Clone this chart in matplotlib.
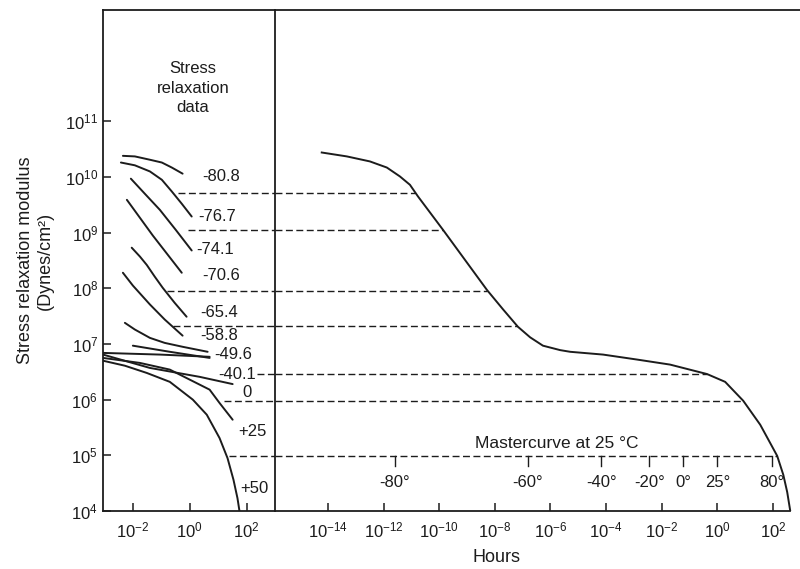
import numpy as np
import matplotlib
matplotlib.use("Agg")
import matplotlib.pyplot as plt
from matplotlib.ticker import FixedLocator, LogFormatterSciNotation, NullLocator

plt.rcParams["font.family"] = ["Liberation Sans", "DejaVu Sans"]
plt.rcParams["mathtext.fontset"] = "custom"
plt.rcParams["mathtext.rm"] = "Liberation Sans"
plt.rcParams["mathtext.it"] = "Liberation Sans:italic"
plt.rcParams["mathtext.bf"] = "Liberation Sans:bold"

# ---- stress relaxation runs (log10 hours, log10 dynes/cm^2) ----
run_logt = [
    [-2.35, -1.93, -1.40, -0.98, -0.63, -0.25],
    [-2.42, -1.93, -1.40, -0.98, -0.63, -0.28, 0.07],
    [-2.07, -1.58, -1.05, -0.49, 0.07],
    [-2.21, -1.30, -0.28],
    [-2.04, -1.75, -1.51, -1.23, -0.95, -0.53, -0.11],
    [-2.35, -2.00, -1.40, -0.88, -0.25],
    [-2.28, -1.93, -1.40, -0.88, -0.25, 0.63],
    [-2.00, -0.70, 0.70],
    [-3.05, -1.05, 0.70],
    [-3.05, -1.40, 0.35, 1.51],
    [-3.05, -1.75, -0.70, 0.00, 0.70, 1.05, 1.51],
    [-3.05, -2.28, -1.51, -0.70, 0.11, 0.60, 1.05, 1.33, 1.54, 1.68, 1.75],
]
run_logE = [
    [10.38, 10.37, 10.31, 10.26, 10.17, 10.06],
    [10.26, 10.21, 10.10, 9.95, 9.74, 9.52, 9.29],
    [9.97, 9.70, 9.41, 9.05, 8.68],
    [9.59, 8.95, 8.28],
    [8.73, 8.57, 8.42, 8.21, 8.01, 7.74, 7.49],
    [8.28, 8.05, 7.71, 7.44, 7.15],
    [7.38, 7.26, 7.11, 7.02, 6.95, 6.86],
    [6.97, 6.86, 6.75],
    [6.84, 6.81, 6.77],
    [6.81, 6.57, 6.41, 6.28],
    [6.75, 6.66, 6.54, 6.36, 6.18, 5.94, 5.64],
    [6.70, 6.61, 6.48, 6.32, 6.00, 5.73, 5.31, 4.95, 4.56, 4.23, 4.00],
]
run_temps = ["-80.8", "-76.7", "-74.1", "-70.6", "-65.4", "-58.8",
             "-49.6", "-40.1", "0", "+25", "+50"]

# ---- master curve at 25 °C ----
master_logt = [-14.22, -13.32, -12.49, -11.88, -11.41, -11.05, -10.76, -9.86,
               -8.28, -7.70, -7.17, -6.73, -6.27, -5.65, -5.29, -4.11, -2.88,
               -1.70, -0.37, 0.28, 0.93, 1.54, 1.90, 2.15, 2.37, 2.51, 2.62]
master_logE = [10.44, 10.37, 10.28, 10.17, 10.01, 9.86, 9.65, 9.05,
               7.97, 7.62, 7.31, 7.12, 6.97, 6.89, 6.86, 6.81, 6.72,
               6.63, 6.46, 6.32, 5.98, 5.55, 5.22, 4.99, 4.65, 4.34, 4.00]

# ---- shifted levels carried from the runs to the master curve ----
shift_logE = [9.72, 9.04, 7.96, 7.33, 6.46, 5.98, 4.99]
shift_from_logt = [-0.42, -0.07, -0.81, -0.60, 2.35, 1.19, 1.37]

# ---- temperature scale along the master curve ----
scale_temps = ["-80°", "-60°", "-40°", "-20°", "0°", "25°", "80°"]
scale_logt = [-11.59, -6.81, -4.18, -2.45, -1.23, 0.0, 1.97]

INK = "#1c1c1c"
FS = 12

fig = plt.figure(figsize=(8.0, 5.69), dpi=100)
axL = fig.add_axes([103 / 800, 58 / 569, 172 / 800, 501 / 569])
axR = fig.add_axes([275 / 800, 58 / 569, 525 / 800, 501 / 569])

xl_left = (10 ** -3.05, 10 ** 3.0)
xl_right = (10 ** -15.9, 10 ** 2.97)
for ax, xl in ((axL, xl_left), (axR, xl_right)):
    ax.set_xscale("log")
    ax.set_yscale("log")
    ax.set_xlim(*xl)
    ax.set_ylim(1e4, 1e13)
    for s in ax.spines.values():
        s.set_linewidth(1.3)
        s.set_color(INK)
    ax.xaxis.set_minor_locator(NullLocator())
    ax.yaxis.set_minor_locator(NullLocator())
    ax.tick_params(direction="in", length=6, width=1.1, colors=INK,
                   labelsize=FS, labelcolor=INK)
    ax.tick_params(axis="x", pad=7)

axL.spines["right"].set_visible(False)
axR.spines["right"].set_visible(False)
axR.spines["bottom"].set_bounds(10 ** -15.9, 10 ** 2.6)

axL.yaxis.set_major_locator(FixedLocator([10.0 ** k for k in range(4, 12)]))
axL.yaxis.set_major_formatter(LogFormatterSciNotation())
axL.xaxis.set_major_locator(FixedLocator([1e-2, 1e0, 1e2]))
axL.xaxis.set_major_formatter(LogFormatterSciNotation())
axR.xaxis.set_major_locator(FixedLocator([10.0 ** k for k in range(-14, 3, 2)]))
axR.xaxis.set_major_formatter(LogFormatterSciNotation())
axR.yaxis.set_major_locator(FixedLocator([]))

# relaxation runs
for lt, le in zip(run_logt, run_logE):
    axL.plot(10 ** np.array(lt), 10 ** np.array(le), color=INK, lw=1.4,
             solid_capstyle="round", solid_joinstyle="round")

label_pos = [(1.12, 10.01), (0.95, 9.29), (0.91, 8.69), (1.12, 8.23),
             (1.02, 7.56), (1.02, 7.15), (1.54, 6.81), (1.68, 6.45),
             (2.00, 6.12), (2.21, 5.42), (2.28, 4.40)]
for t, (x, y) in zip(run_temps, label_pos):
    axL.text(10 ** x, 10 ** y, t, fontsize=FS, color=INK,
             ha="center", va="center")

axL.text(0.523, 0.844, "Stress\nrelaxation\ndata", transform=axL.transAxes,
         ha="center", va="center", fontsize=FS, color=INK, linespacing=1.35)

# master curve
mt = np.array(master_logt)
me = np.array(master_logE)
axR.plot(10 ** mt, 10 ** me, color=INK, lw=1.4, solid_joinstyle="round")

# dashed shift lines: from each run into the master curve
dash = (0, (5, 2.5))
for lvl, x0 in zip(shift_logE, shift_from_logt):
    x_end = np.interp(lvl, me[::-1], mt[::-1])
    axL.plot([10 ** x0, xl_left[1]], [10 ** lvl] * 2, color=INK, lw=1.0,
             ls=dash)
    axR.plot([xl_right[0], 10 ** x_end], [10 ** lvl] * 2, color=INK, lw=1.0,
             ls=dash)

# temperature scale hanging from the 10^5 level
base = shift_logE[-1]
for t, x in zip(scale_temps, scale_logt):
    axR.plot([10 ** x] * 2, [10 ** base, 10 ** (base - 0.18)], color=INK, lw=1.0)
    axR.text(10 ** x, 10 ** 4.52, t, fontsize=FS, color=INK,
             ha="center", va="center")

axR.text(10 ** -5.76, 10 ** 5.22, "Mastercurve at 25 °C", fontsize=12.5,
         color=INK, ha="center", va="center")

axL.set_ylabel("Stress relaxation modulus\n(Dynes/cm²)", fontsize=13,
               color=INK, labelpad=8, linespacing=1.2)
fig.text(497 / 800, 1 - 557 / 569, "Hours", fontsize=13, color=INK,
         ha="center", va="center")

fig.savefig("out.png", dpi=100)
